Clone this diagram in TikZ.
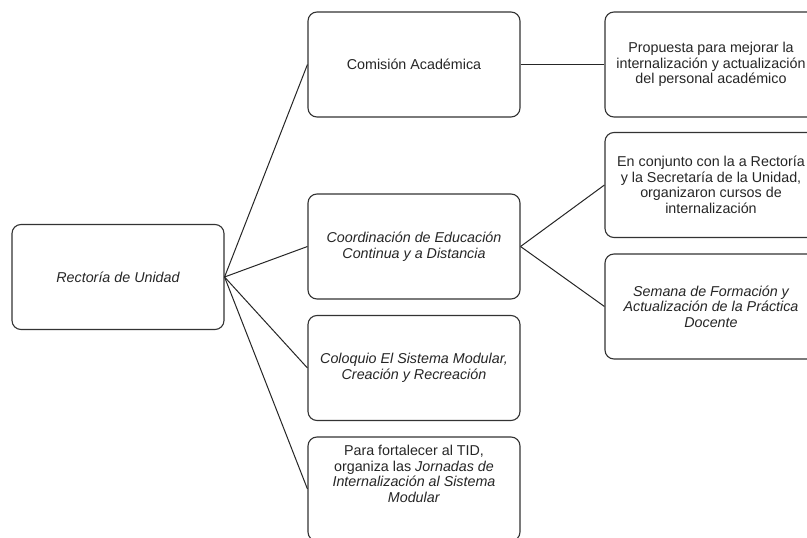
\documentclass[tikz,border=0pt]{standalone}
\usepackage{fontspec}
\setmainfont{Liberation Sans}
\begin{document}
\begin{tikzpicture}[x=1pt,y=-1pt,
  box/.style={draw=black!80, line width=1.1pt, rounded corners=9pt, fill=white,
    minimum width=212pt, minimum height=105pt, inner sep=0pt},
  txt/.style={align=center, text=black!85, font=\fontsize{14.3}{15.6}\selectfont},
  link/.style={draw=black!85, line width=1pt}]
\useasboundingbox (0,0) rectangle (807,538);
\clip (0,0) rectangle (807,538);
\fill[white] (0,0) rectangle (807,538);
% boxes
\node[box] (root) at (118,277) {};
\node[box] (com) at (414,64.5) {};
\node[box] (coord) at (414,246.5) {};
\node[box] (colo) at (414,368) {};
\node[box, minimum height=104pt] (para) at (414,489) {};
\node[box] (prop) at (711,64.5) {};
\node[box] (conj) at (711,185) {};
\node[box] (sem) at (711,306.5) {};
% texts
\node[txt] at (root.center) {\itshape Rectoría de Unidad};
\node[txt] at (com.center) {Comisión Académica};
\node[txt] at (coord.center) {\itshape Coordinación de Educación\\\itshape Continua y a Distancia};
\node[txt] at (colo.center) {\itshape Coloquio El Sistema Modular,\\\itshape Creación y Recreación};
\node[txt] at ([yshift=15pt]para.center) {Para fortalecer al TID,\\organiza las \textit{Jornadas de}\\\textit{Internalización al Sistema}\\\textit{Modular}};
\node[txt] at (prop.center) {Propuesta para mejorar la\\internalización y actualización\\del personal académico};
\node[txt] at (conj.center) {En conjunto con la a Rectoría\\y la Secretaría de la Unidad,\\organizaron cursos de\\internalización};
\node[txt] at (sem.center) {\itshape Semana de Formación y\\\itshape Actualización de la Práctica\\\itshape Docente};
% connectors
\draw[link] (root.east) -- (com.west);
\draw[link] (root.east) -- (coord.west);
\draw[link] (root.east) -- (colo.west);
\draw[link] (root.east) -- (para.west);
\draw[link] (com.east) -- (prop.west);
\draw[link] (coord.east) -- (conj.west);
\draw[link] (coord.east) -- (sem.west);
\end{tikzpicture}
\end{document}
